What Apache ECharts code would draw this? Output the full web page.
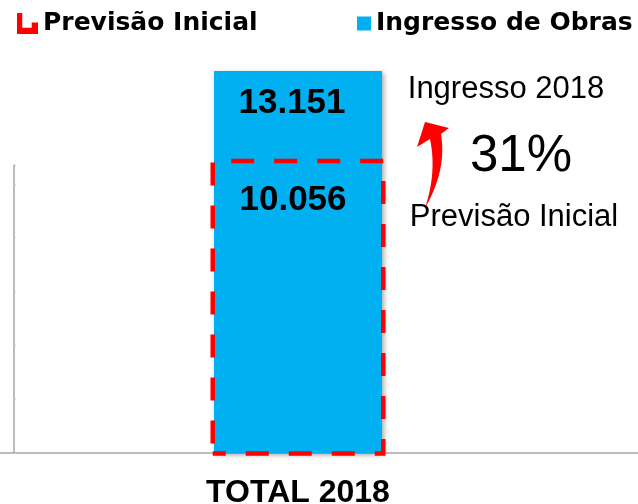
<!DOCTYPE html>
<html>
<head>
<meta charset="utf-8">
<script src="https://cdn.jsdelivr.net/npm/echarts@6/dist/echarts.min.js"></script>
<style>
  html, body { margin: 0; padding: 0; background: #fff; }
  #chart { width: 638px; height: 504px; }
</style>
</head>
<body>
<div id="chart"></div>
<script>
var categories = ['TOTAL 2018'];
var ingresso = [13151];
var previsao = [10056];
var notes = ['Ingresso 2018', '31%', 'Previsão Inicial'];

var fmt = function (v) {
    return String(v).replace(/\B(?=(\d{3})+(?!\d))/g, '.');
};

// curved arrow between the two notes
function quad(p0, c, p1, n) {
    var pts = [];
    for (var i = 0; i <= n; i++) {
        var t = i / n, u = 1 - t;
        pts.push([u * u * p0[0] + 2 * u * t * c[0] + t * t * p1[0],
                  u * u * p0[1] + 2 * u * t * c[1] + t * t * p1[1]]);
    }
    return pts;
}
var arrowPts = [[425, 122], [449, 128]]
    .concat(quad([441, 134], [447, 170], [425, 208], 14))
    .concat(quad([425, 208], [437, 172], [430, 139], 14).slice(1))
    .concat([[417, 147]]);

var myChart = echarts.init(document.getElementById('chart'));
var sans = 'Liberation Sans, Arial, sans-serif';
var maxVal = Math.max.apply(null, ingresso);

var option = {
    animation: false,
    legend: [
        {
            left: 17, top: 11, padding: 0,
            itemWidth: 21, itemHeight: 21,
            textStyle: { fontFamily: 'DejaVu Sans', fontWeight: 'bold', fontSize: 25, color: '#000' },
            data: [{
                name: 'Previsão Inicial',
                icon: 'path://M0,0 H5 V14 H14 V9 H20 V20 H0 Z',
                itemStyle: { color: '#ff0000', borderWidth: 0 }
            }]
        },
        {
            left: 357, top: 11, padding: 0,
            itemWidth: 14, itemHeight: 14,
            icon: 'rect',
            itemStyle: { shadowBlur: 0, shadowColor: 'transparent', shadowOffsetX: 0, shadowOffsetY: 0 },
            textStyle: { fontFamily: 'DejaVu Sans', fontWeight: 'bold', fontSize: 25, color: '#000' },
            data: ['Ingresso de Obras']
        }
    ],
    grid: [
        { left: 0, right: 42, top: 71, bottom: 51, outerBoundsMode: 'none' },
        { left: 0, right: 0, top: 165, bottom: 51, outerBoundsMode: 'none' },
        { left: 0, right: 42, top: 67.4, bottom: 48.25, outerBoundsMode: 'none' }
    ],
    xAxis: [
        {
            type: 'category', gridIndex: 0, data: categories,
            axisLine: { show: false }, axisTick: { show: false },
            axisLabel: { fontFamily: sans, fontWeight: 'bold', fontSize: 32, color: '#000', margin: 24 }
        },
        {
            type: 'value', gridIndex: 1, min: 0, max: 1,
            axisLine: { show: true, lineStyle: { color: '#a6a6a6', width: 1.5 } },
            axisTick: { show: false }, axisLabel: { show: false }, splitLine: { show: false }
        },
        { type: 'category', gridIndex: 2, data: categories, show: false }
    ],
    yAxis: [
        { type: 'value', gridIndex: 0, min: 0, max: maxVal, show: false },
        {
            type: 'value', gridIndex: 1, min: 0, max: 5.35, interval: 1, offset: -14,
            axisLine: { show: true, lineStyle: { color: '#a6a6a6', width: 1.5 } },
            axisTick: { show: true, inside: true, length: 2, lineStyle: { color: '#d0d0d0' } },
            axisLabel: { show: false }, splitLine: { show: false }
        },
        { type: 'value', gridIndex: 2, min: 0, max: maxVal, show: false }
    ],
    series: [
        {
            name: 'Ingresso de Obras',
            type: 'bar',
            xAxisIndex: 0, yAxisIndex: 0,
            data: ingresso,
            barWidth: 168,
            z: 2,
            itemStyle: {
                color: '#00b0f0',
                shadowBlur: 5, shadowColor: 'rgba(0,0,0,0.35)',
                shadowOffsetX: 2, shadowOffsetY: 2
            },
            label: {
                show: true, position: 'insideTop', distance: 15, offset: [-6, 0],
                formatter: function (p) { return fmt(p.value); },
                fontFamily: sans, fontWeight: 'bold', fontSize: 35, color: '#000'
            }
        },
        {
            name: 'Previsão Inicial',
            type: 'bar',
            xAxisIndex: 2, yAxisIndex: 2,
            data: previsao,
            barWidth: 175,
            z: 3,
            itemStyle: {
                color: 'rgba(0,0,0,0)',
                borderColor: '#ff0000', borderWidth: 4.5,
                borderType: [23, 20],
                borderDashOffset: 10
            },
            label: {
                show: true, position: 'insideTop', distance: 24, offset: [-5, 0],
                formatter: function (p) { return fmt(p.value); },
                fontFamily: sans, fontWeight: 'bold', fontSize: 35, color: '#000'
            }
        }
    ],
    graphic: [
        { type: 'polygon', shape: { points: arrowPts }, style: { fill: '#ff0000' }, z: 10 },
        { type: 'text', x: 506, y: 89, style: { text: notes[0], font: '31px ' + sans, fill: '#000', textAlign: 'center', textVerticalAlign: 'middle' } },
        { type: 'text', x: 521, y: 157, style: { text: notes[1], font: '51px ' + sans, fill: '#000', textAlign: 'center', textVerticalAlign: 'middle' } },
        { type: 'text', x: 514, y: 217, style: { text: notes[2], font: '31px ' + sans, fill: '#000', textAlign: 'center', textVerticalAlign: 'middle' } }
    ]
};

myChart.setOption(option);
window.addEventListener('resize', function () {
    myChart.resize();
});
</script>
</body>
</html>
